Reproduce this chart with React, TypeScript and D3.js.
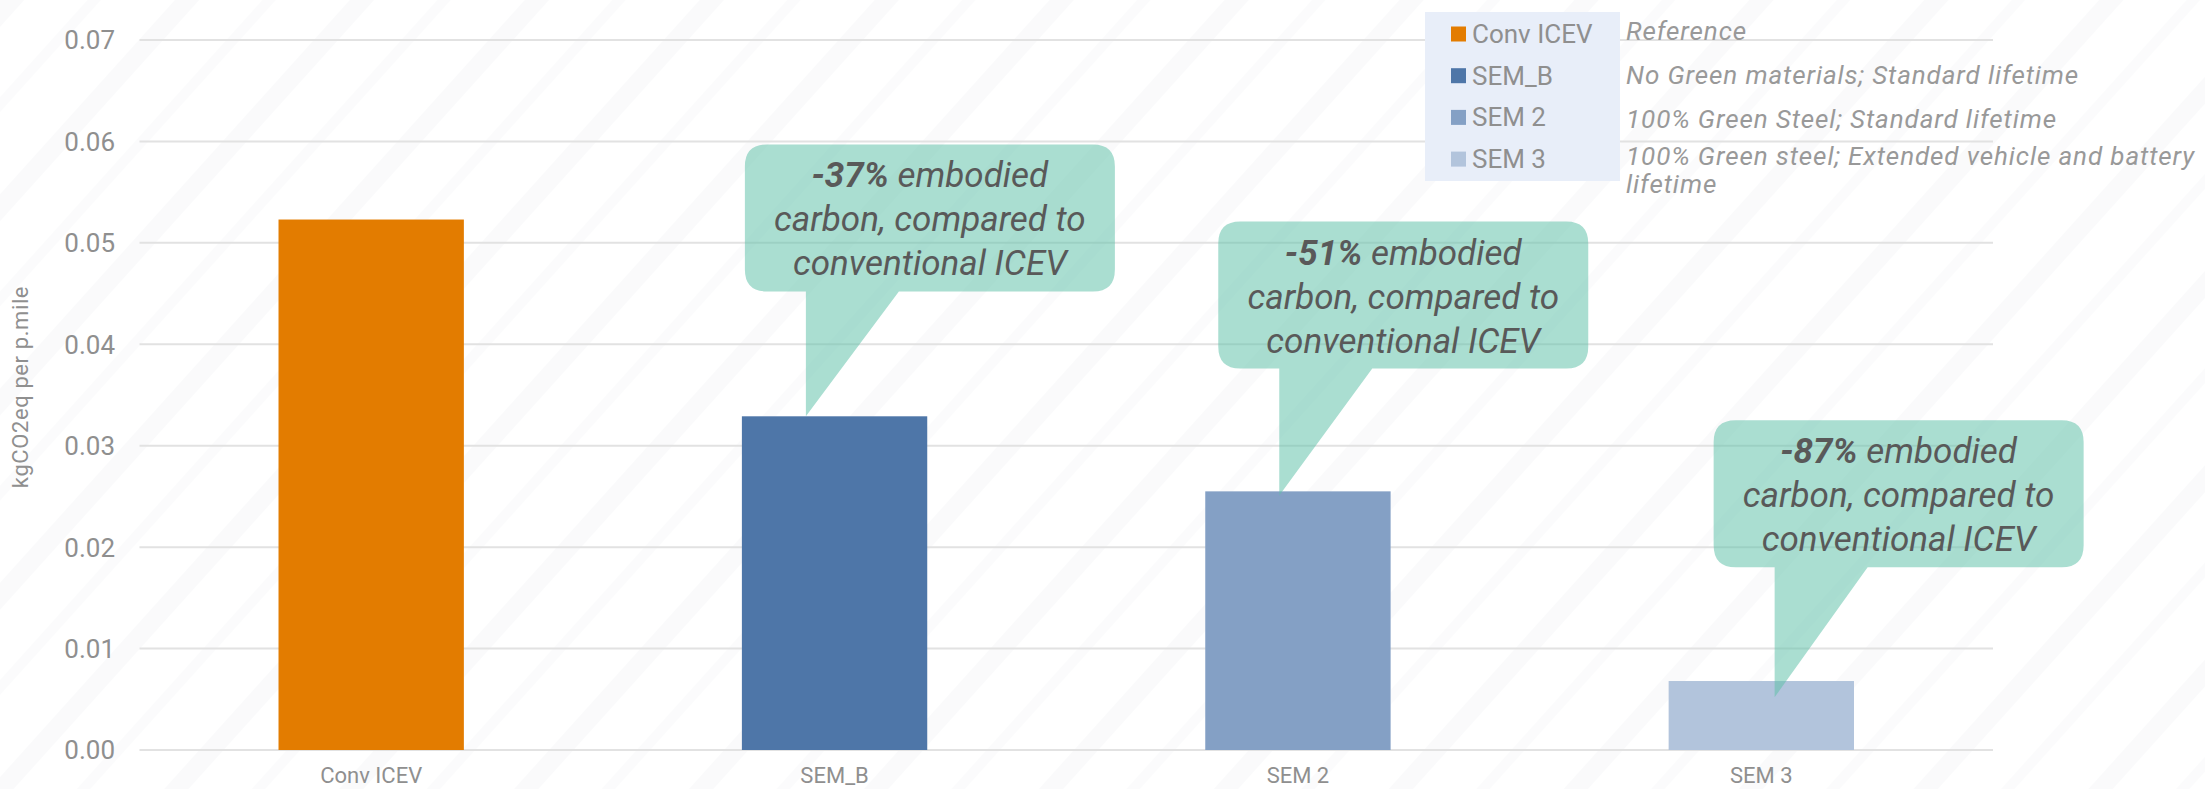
import React from "react";
import * as d3 from "d3";

const categories = ["Conv ICEV", "SEM_B", "SEM 2", "SEM 3"];
const values = [0.0523, 0.0329, 0.0255, 0.0068];
const colors = ["#e37c00", "#4e76a8", "#84a0c5", "#b2c4dc"];
const yTicks = [0, 0.01, 0.02, 0.03, 0.04, 0.05, 0.06, 0.07];
const descriptions = [
  ["Reference"],
  ["No Green materials; Standard lifetime"],
  ["100% Green Steel; Standard lifetime"],
  ["100% Green steel; Extended vehicle and battery", "lifetime"],
];
const calloutCats = ["SEM_B", "SEM 2", "SEM 3"];
const calloutPct = ["-37%", "-51%", "-87%"];
const calloutTop = [0.0597, 0.0521, 0.0325];
const calloutTip = [0.0329, 0.0251, 0.0052];
const calloutBoxOffset = [3, 13, 45];
const calloutTailOffset = [64, 74, 106];

const W = 2205;
const H = 789;
const FONT = "Roboto, 'Liberation Sans', sans-serif";

export default function App() {
  const x = d3
    .scaleBand<string>()
    .domain(categories)
    .range([139.5, 1993])
    .paddingInner(0.6)
    .paddingOuter(0.3);
  const y = d3.scaleLinear().domain([0, 0.07]).range([750, 40]);
  const bw = x.bandwidth();

  const boxW = 370;
  const boxH = 147;
  const r = 22;
  const tailW = 93;

  return (
    <svg
      width={W}
      height={H}
      style={{ position: "absolute", left: 0, top: 0, background: "#fff" }}
    >
      <defs>
        <pattern
          id="stripes"
          width="130"
          height="130"
          patternUnits="userSpaceOnUse"
          patternTransform="rotate(-48)"
        >
          <rect x="0" y="0" width="130" height="18" fill="#f3f4f6" />
          <rect x="0" y="65" width="130" height="10" fill="#f6f7f8" />
        </pattern>
      </defs>
      <rect x={0} y={0} width={W} height={H} fill="#ffffff" />
      <rect x={0} y={0} width={W} height={H} fill="url(#stripes)" opacity={0.45} />

      {/* gridlines */}
      {yTicks.map((t) => (
        <line
          key={"g" + t}
          x1={139.5}
          x2={1993}
          y1={y(t)}
          y2={y(t)}
          stroke="#e2e2e2"
          strokeWidth={2}
        />
      ))}

      {/* y tick labels */}
      {yTicks.map((t) => (
        <text
          key={"t" + t}
          x={115}
          y={y(t)}
          dy="0.36em"
          textAnchor="end"
          fontFamily={FONT}
          fontSize={26}
          fill="#8f8f8f"
        >
          {d3.format(".2f")(t)}
        </text>
      ))}

      {/* y axis title */}
      <text
        transform={`translate(28,387) rotate(-90)`}
        textAnchor="middle"
        fontFamily={FONT}
        fontSize={22}
        letterSpacing={0.6}
        fill="#8f8f8f"
      >
        kgCO2eq per p.mile
      </text>

      {/* bars */}
      {categories.map((c, i) => (
        <rect
          key={"b" + c}
          x={x(c)}
          y={y(values[i])}
          width={bw}
          height={y(0) - y(values[i])}
          fill={colors[i]}
        />
      ))}

      {/* category labels */}
      {categories.map((c) => (
        <text
          key={"c" + c}
          x={(x(c) as number) + bw / 2}
          y={783}
          textAnchor="middle"
          fontFamily={FONT}
          fontSize={22}
          fill="#8f8f8f"
        >
          {c}
        </text>
      ))}

      {/* callouts */}
      {calloutCats.map((c, i) => {
        const bx = (x(c) as number) + calloutBoxOffset[i];
        const by = y(calloutTop[i]);
        const tx = (x(c) as number) + calloutTailOffset[i];
        const tipY = y(calloutTip[i]);
        const bot = by + boxH;
        const path = [
          `M${bx + r},${by}`,
          `H${bx + boxW - r}`,
          `Q${bx + boxW},${by} ${bx + boxW},${by + r}`,
          `V${bot - r}`,
          `Q${bx + boxW},${bot} ${bx + boxW - r},${bot}`,
          `H${tx + tailW}`,
          `L${tx},${tipY}`,
          `V${bot}`,
          `H${bx + r}`,
          `Q${bx},${bot} ${bx},${bot - r}`,
          `V${by + r}`,
          `Q${bx},${by} ${bx + r},${by}`,
          "Z",
        ].join(" ");
        const cx = bx + boxW / 2;
        return (
          <g key={"co" + c}>
            <path d={path} fill="#5ec0a8" fillOpacity={0.53} />
            <text
              x={cx}
              y={by + 43}
              textAnchor="middle"
              fontFamily={FONT}
              fontSize={35}
              fontStyle="italic"
              fill="#595959"
            >
              <tspan fontWeight="bold">{calloutPct[i]}</tspan>
              <tspan> embodied</tspan>
            </text>
            <text
              x={cx}
              y={by + 87}
              textAnchor="middle"
              fontFamily={FONT}
              fontSize={35}
              fontStyle="italic"
              fill="#595959"
            >
              carbon, compared to
            </text>
            <text
              x={cx}
              y={by + 131}
              textAnchor="middle"
              fontFamily={FONT}
              fontSize={35}
              fontStyle="italic"
              fill="#595959"
            >
              conventional ICEV
            </text>
          </g>
        );
      })}

      {/* legend */}
      <rect x={1425} y={12} width={195} height={169} fill="#e8eef9" />
      {categories.map((c, i) => {
        const cy = 34 + i * 41.7;
        return (
          <g key={"l" + c}>
            <rect x={1451} y={cy - 7.5} width={15} height={15} fill={colors[i]} />
            <text
              x={1472}
              y={cy + 9}
              fontFamily={FONT}
              fontSize={26}
              fill="#8f8f8f"
            >
              {c}
            </text>
          </g>
        );
      })}
      {descriptions.map((lines, i) => {
        const base = [40, 83.5, 128, 165][i];
        return (
          <text
            key={"d" + i}
            x={1626}
            y={base}
            fontFamily={FONT}
            fontSize={26}
            letterSpacing={0.9}
            fontStyle="italic"
            fill="#999999"
          >
            {lines.map((ln, j) => (
              <tspan key={j} x={1626} dy={j === 0 ? 0 : 28}>
                {ln}
              </tspan>
            ))}
          </text>
        );
      })}
    </svg>
  );
}
